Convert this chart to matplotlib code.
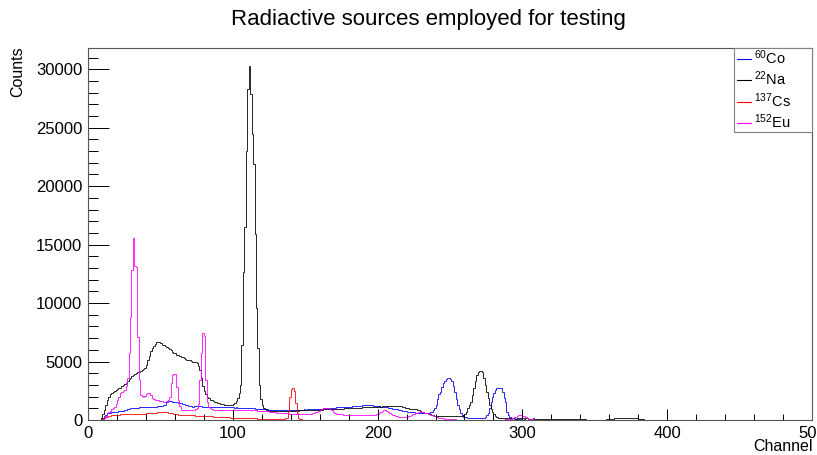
import numpy as np
import matplotlib
matplotlib.use("Agg")
import matplotlib.pyplot as plt
from matplotlib.patches import Rectangle
from matplotlib.ticker import MultipleLocator

plt.rcParams['font.family'] = ['Liberation Sans', 'DejaVu Sans']
plt.rcParams['mathtext.fontset'] = 'custom'
plt.rcParams['mathtext.rm'] = 'Liberation Sans'
plt.rcParams['mathtext.it'] = 'Liberation Sans:italic'

# Cuentas por canal (canales 0..499)
co60 = [
    0, 0, 0, 0, 0, 0, 0, 0, 0, 0, 200, 350, 450, 570, 600, 630, 650, 670, 690, 700,
    720, 740, 760, 770, 800, 830, 870, 920, 960, 1000, 1010, 1020, 1040, 1050, 1060, 1070, 1080, 1090, 1100, 1100,
    1110, 1110, 1120, 1120, 1130, 1130, 1140, 1150, 1160, 1180, 1200, 1220, 1250, 1290, 1500, 1660, 1620, 1600, 1570, 1550,
    1540, 1520, 1490, 1450, 1420, 1380, 1340, 1290, 1250, 1220, 1190, 1160, 1140, 1170, 1190, 1200, 1200, 1180, 1160, 1150,
    1140, 1130, 1120, 1110, 1100, 1090, 1090, 1080, 1090, 1080, 1090, 1080, 1070, 1080, 1090, 1080, 1070, 1080, 1090, 1080,
    1070, 1060, 1070, 1060, 1050, 1040, 1050, 1040, 1030, 1020, 1030, 1020, 1010, 1000, 990, 980, 970, 960, 950, 940,
    930, 920, 910, 900, 890, 880, 870, 860, 870, 860, 870, 860, 850, 860, 870, 860, 870, 860, 870, 860,
    870, 860, 870, 880, 870, 880, 890, 880, 890, 900, 890, 900, 910, 910, 920, 930, 940, 940, 950, 960,
    970, 980, 990, 1000, 1010, 1020, 1030, 1040, 1050, 1060, 1060, 1070, 1080, 1080, 1090, 1090, 1100, 1110, 1120, 1130,
    1140, 1150, 1160, 1170, 1180, 1190, 1200, 1220, 1240, 1250, 1270, 1280, 1290, 1280, 1270, 1260, 1250, 1240, 1220, 1200,
    1180, 1160, 1150, 1130, 1120, 1100, 1090, 1060, 1030, 1000, 980, 950, 930, 910, 880, 860, 840, 810, 780, 750,
    720, 710, 690, 680, 660, 650, 640, 630, 620, 610, 600, 610, 600, 610, 600, 620, 650, 700, 860, 1000,
    1290, 1800, 2200, 2430, 2800, 3140, 3350, 3510, 3560, 3570, 3550, 3300, 2900, 2430, 1800, 1290, 900, 570, 400, 290,
    250, 220, 200, 190, 180, 170, 160, 160, 150, 150, 150, 160, 170, 200, 300, 420, 570, 1000, 1570, 2000,
    2290, 2550, 2720, 2740, 2740, 2700, 2430, 1900, 1570, 710, 450, 290, 200, 150, 100, 80, 60, 50, 40, 40,
    30, 30, 30, 20, 30, 20, 20, 30, 20, 20, 20, 20, 20, 20, 10, 20, 20, 10, 20, 10,
    10, 20, 10, 10, 10, 20, 10, 10, 10, 10, 10, 10, 10, 10, 10, 10, 10, 10, 10, 10,
    10, 10, 10, 10, 10, 10, 10, 10, 10, 10, 10, 10, 10, 10, 10, 10, 10, 10, 10, 10,
    10, 10, 10, 10, 10, 20, 20, 20, 30, 30, 30, 30, 20, 20, 10, 10, 10, 10, 10, 10,
    10, 10, 10, 10, 10, 10, 10, 10, 10, 10, 0, 10, 0, 10, 0, 0, 10, 0, 0, 0,
    0, 0, 0, 0, 0, 0, 0, 0, 0, 0, 0, 0, 0, 0, 0, 0, 0, 0, 0, 0,
    0, 0, 0, 0, 0, 0, 0, 0, 0, 0, 0, 0, 0, 0, 0, 0, 0, 0, 0, 0,
    0, 0, 0, 0, 0, 0, 0, 0, 0, 0, 0, 0, 0, 0, 0, 0, 0, 0, 0, 0,
    0, 0, 0, 0, 0, 0, 0, 0, 0, 0, 0, 0, 0, 0, 0, 0, 0, 0, 0, 0,
    0, 0, 0, 0, 0, 0, 0, 0, 0, 0, 0, 0, 0, 0, 0, 0, 0, 0, 0, 0,
]

na22 = [
    0, 0, 0, 0, 0, 0, 0, 0, 0, 200, 500, 860, 1300, 1700, 2000, 2200, 2340, 2400, 2450, 2550,
    2630, 2700, 2780, 2900, 3000, 3090, 3200, 3350, 3490, 3600, 3750, 3850, 3940, 4000, 4080, 4140, 4200, 4250, 4350, 4430,
    4700, 5100, 5500, 5900, 6150, 6350, 6510, 6650, 6710, 6650, 6550, 6450, 6400, 6330, 6250, 6140, 6050, 5950, 5850, 5750,
    5700, 5600, 5550, 5480, 5430, 5350, 5300, 5200, 5150, 5140, 5100, 5050, 5000, 5000, 4950, 4850, 4600, 4280, 3600, 2900,
    2500, 2200, 2000, 1850, 1750, 1700, 1620, 1550, 1500, 1480, 1450, 1400, 1380, 1350, 1320, 1300, 1290, 1280, 1290, 1300,
    1350, 1430, 1600, 1900, 2300, 3000, 6400, 12700, 16500, 23000, 28300, 30300, 27900, 24500, 21900, 15900, 9600, 6200, 3000, 1800,
    1300, 1030, 900, 820, 790, 770, 760, 750, 760, 770, 750, 760, 780, 770, 760, 780, 790, 780, 800, 790,
    800, 790, 810, 800, 820, 810, 830, 820, 840, 830, 850, 840, 860, 850, 870, 860, 880, 870, 890, 880,
    900, 890, 910, 900, 920, 910, 930, 920, 940, 930, 950, 940, 960, 970, 960, 980, 970, 990, 1000, 990,
    1010, 1000, 1020, 1030, 1020, 1040, 1050, 1040, 1060, 1070, 1080, 1070, 1090, 1100, 1090, 1110, 1120, 1130, 1140, 1130,
    1150, 1160, 1150, 1170, 1180, 1170, 1190, 1200, 1190, 1200, 1200, 1190, 1200, 1210, 1200, 1190, 1180, 1150, 1110, 1060,
    1020, 1000, 980, 960, 950, 940, 930, 880, 820, 760, 700, 660, 620, 600, 560, 520, 480, 440, 400, 370,
    360, 350, 340, 340, 330, 330, 320, 330, 320, 320, 330, 320, 320, 330, 320, 330, 340, 350, 380, 420,
    500, 720, 1000, 1300, 1570, 2100, 2740, 3300, 3860, 4100, 4200, 4200, 4140, 3600, 3000, 2430, 1900, 1290, 900, 650,
    490, 350, 250, 170, 140, 130, 140, 130, 120, 130, 140, 130, 120, 130, 140, 120, 130, 140, 130, 120,
    130, 120, 140, 130, 120, 110, 120, 130, 120, 110, 120, 110, 120, 110, 100, 110, 120, 110, 100, 110,
    100, 110, 100, 90, 100, 110, 100, 90, 100, 110, 100, 90, 100, 90, 100, 90, 80, 90, 100, 90,
    80, 70, 60, 50, 40, 40, 30, 40, 30, 40, 30, 40, 30, 40, 30, 40, 30, 40, 50, 60,
    70, 90, 110, 130, 140, 150, 150, 160, 150, 160, 150, 160, 150, 160, 150, 150, 140, 150, 140, 130,
    120, 100, 80, 60, 40, 30, 20, 20, 10, 20, 10, 10, 20, 10, 10, 10, 10, 0, 10, 10,
    0, 10, 0, 0, 10, 0, 0, 0, 10, 0, 0, 0, 0, 0, 0, 0, 0, 0, 0, 0,
    0, 0, 0, 0, 0, 0, 0, 0, 0, 0, 0, 0, 0, 0, 0, 0, 0, 0, 0, 0,
    0, 0, 0, 0, 0, 0, 0, 0, 0, 0, 0, 0, 0, 0, 0, 0, 0, 0, 0, 0,
    0, 0, 0, 0, 0, 0, 0, 0, 0, 0, 0, 0, 0, 0, 0, 0, 0, 0, 0, 0,
    0, 0, 0, 0, 0, 0, 0, 0, 0, 0, 0, 0, 0, 0, 0, 0, 0, 0, 0, 0,
]

cs137 = [
    0, 0, 0, 0, 0, 0, 0, 0, 0, 0, 100, 200, 250, 290, 350, 380, 400, 420, 430, 450,
    460, 470, 480, 480, 490, 490, 490, 490, 500, 500, 510, 510, 520, 520, 530, 530, 540, 540, 550, 550,
    560, 560, 570, 570, 570, 580, 600, 620, 650, 700, 720, 710, 690, 680, 650, 630, 610, 590, 570, 540,
    510, 480, 450, 450, 460, 470, 460, 450, 440, 420, 410, 400, 390, 390, 380, 370, 370, 360, 350, 340,
    340, 330, 330, 320, 320, 310, 300, 300, 290, 290, 290, 280, 270, 260, 250, 240, 230, 220, 210, 200,
    200, 190, 190, 180, 180, 170, 170, 160, 160, 150, 150, 150, 140, 140, 140, 130, 130, 120, 120, 110,
    110, 100, 100, 100, 90, 90, 80, 80, 80, 90, 90, 100, 100, 110, 110, 120, 130, 180, 860, 2000,
    2630, 2710, 2500, 1430, 570, 200, 80, 50, 40, 30, 30, 30, 30, 30, 30, 30, 30, 30, 30, 30,
    30, 30, 30, 30, 30, 30, 30, 30, 30, 30, 30, 30, 30, 30, 30, 30, 30, 30, 30, 30,
    30, 30, 30, 30, 30, 30, 30, 30, 30, 30, 30, 30, 30, 30, 30, 30, 30, 30, 30, 30,
    30, 30, 30, 30, 30, 30, 30, 30, 30, 30, 30, 30, 30, 30, 30, 30, 30, 30, 30, 30,
    30, 30, 30, 30, 30, 30, 20, 20, 20, 20, 20, 20, 20, 20, 20, 20, 20, 20, 20, 20,
    20, 20, 20, 20, 20, 20, 20, 20, 20, 20, 20, 20, 20, 20, 20, 20, 20, 20, 20, 20,
    20, 20, 20, 20, 20, 20, 20, 20, 20, 20, 20, 20, 20, 20, 20, 20, 20, 20, 20, 20,
    20, 20, 20, 20, 20, 20, 20, 20, 20, 20, 30, 30, 30, 20, 20, 20, 10, 10, 10, 10,
    10, 10, 10, 10, 10, 10, 10, 10, 10, 10, 10, 10, 10, 10, 10, 10, 10, 10, 10, 10,
    10, 10, 10, 10, 10, 10, 10, 10, 10, 10, 10, 10, 10, 10, 10, 10, 10, 10, 10, 10,
    10, 10, 10, 10, 10, 10, 10, 10, 10, 10, 10, 10, 10, 10, 10, 10, 10, 10, 10, 10,
    10, 10, 10, 10, 10, 10, 10, 10, 10, 10, 10, 10, 10, 10, 10, 10, 10, 10, 10, 10,
    10, 10, 10, 10, 10, 10, 10, 10, 10, 10, 0, 10, 0, 10, 0, 0, 10, 0, 0, 0,
    0, 0, 0, 0, 0, 0, 0, 0, 0, 0, 0, 0, 0, 0, 0, 0, 0, 0, 0, 0,
    0, 0, 0, 0, 0, 0, 0, 0, 0, 0, 0, 0, 0, 0, 0, 0, 0, 0, 0, 0,
    0, 0, 0, 0, 0, 0, 0, 0, 0, 0, 0, 0, 0, 0, 0, 0, 0, 0, 0, 0,
    0, 0, 0, 0, 0, 0, 0, 0, 0, 0, 0, 0, 0, 0, 0, 0, 0, 0, 0, 0,
    0, 0, 0, 0, 0, 0, 0, 0, 0, 0, 0, 0, 0, 0, 0, 0, 0, 0, 0, 0,
]

eu152 = [
    0, 0, 0, 0, 0, 0, 0, 0, 0, 0, 0, 150, 350, 570, 700, 800, 900, 1000, 1140, 1400,
    1700, 2000, 2290, 2400, 2500, 2570, 2900, 3600, 5700, 8850, 12850, 15600, 13140, 13100, 7140, 3430, 2140, 2050, 2000, 2050,
    2200, 2340, 2290, 2100, 1860, 1780, 1740, 1710, 1680, 1650, 1620, 1600, 1580, 1570, 1600, 1700, 2000, 3140, 3860, 3940,
    3900, 2860, 1710, 1200, 860, 850, 860, 860, 850, 850, 860, 860, 870, 860, 900, 1000, 1400, 3430, 5740, 7430,
    7200, 3430, 1570, 1140, 1000, 900, 880, 870, 860, 870, 860, 850, 860, 850, 840, 850, 840, 830, 840, 830,
    840, 850, 860, 850, 860, 870, 860, 850, 860, 850, 860, 870, 860, 850, 840, 830, 820, 810, 800, 790,
    780, 770, 760, 750, 740, 720, 700, 690, 680, 660, 640, 620, 610, 600, 590, 580, 570, 560, 560, 550,
    550, 540, 540, 530, 530, 530, 520, 530, 530, 530, 530, 530, 540, 540, 550, 560, 600, 650, 700, 780,
    850, 950, 1000, 1060, 1060, 1050, 1000, 950, 850, 700, 600, 510, 500, 490, 480, 480, 470, 470, 460, 460,
    450, 450, 450, 460, 450, 450, 460, 450, 450, 440, 450, 440, 450, 440, 450, 440, 450, 450, 460, 480,
    520, 580, 650, 750, 850, 850, 800, 700, 600, 520, 450, 400, 340, 320, 300, 300, 290, 290, 290, 290,
    300, 330, 380, 430, 490, 540, 590, 630, 660, 660, 660, 650, 640, 620, 560, 500, 450, 430, 380, 320,
    260, 220, 190, 170, 150, 130, 110, 100, 90, 80, 70, 60, 50, 50, 40, 40, 30, 30, 30, 30,
    30, 40, 30, 20, 30, 30, 40, 30, 20, 30, 30, 20, 30, 40, 30, 30, 20, 30, 30, 40,
    30, 30, 30, 30, 30, 30, 30, 40, 40, 50, 60, 80, 120, 170, 230, 300, 370, 420, 430, 420,
    380, 320, 250, 180, 120, 80, 60, 50, 40, 40, 30, 30, 30, 30, 30, 30, 30, 30, 30, 30,
    20, 20, 20, 20, 20, 20, 20, 20, 20, 20, 20, 20, 20, 20, 20, 20, 20, 20, 20, 20,
    20, 20, 20, 20, 20, 20, 20, 20, 20, 20, 10, 10, 10, 10, 10, 10, 10, 10, 10, 10,
    10, 10, 10, 10, 10, 10, 10, 10, 10, 10, 10, 10, 10, 10, 10, 10, 10, 10, 10, 10,
    10, 10, 10, 10, 10, 10, 10, 10, 10, 10, 10, 10, 10, 10, 10, 10, 10, 10, 10, 10,
    10, 10, 10, 10, 10, 10, 10, 10, 10, 10, 10, 10, 10, 10, 10, 10, 10, 10, 10, 10,
    10, 10, 10, 10, 10, 10, 10, 10, 10, 10, 0, 10, 0, 10, 0, 0, 10, 0, 0, 0,
    0, 0, 0, 0, 0, 0, 0, 0, 0, 0, 0, 0, 0, 0, 0, 0, 0, 0, 0, 0,
    0, 0, 0, 0, 0, 0, 0, 0, 0, 0, 0, 0, 0, 0, 0, 0, 0, 0, 0, 0,
    0, 0, 0, 0, 0, 0, 0, 0, 0, 0, 0, 0, 0, 0, 0, 0, 0, 0, 0, 0,
]

labels = [r'$^{60}$Co', r'$^{22}$Na', r'$^{137}$Cs', r'$^{152}$Eu']
colors = ['#0000ff', '#000000', '#ff0000', '#ff00ff']
series = [co60, na22, cs137, eu152]

edges = np.arange(len(co60) + 1)

fig = plt.figure(figsize=(8.17, 4.55), dpi=100)
ax = fig.add_axes([0.1077, 0.0769, 0.8862, 0.8176])

for vals, col in zip(series, colors):
    ax.stairs(vals, edges, color=col, linewidth=0.7, alpha=0.85)

ax.set_xlim(0, 500)
ax.set_ylim(0, 31815)

ax.xaxis.set_major_locator(MultipleLocator(100))
ax.xaxis.set_minor_locator(MultipleLocator(20))
ax.yaxis.set_major_locator(MultipleLocator(5000))
ax.yaxis.set_minor_locator(MultipleLocator(1000))
ax.tick_params(axis='x', which='major', direction='in', length=8, width=0.7, pad=4, labelsize=12)
ax.tick_params(axis='x', which='minor', direction='in', length=4, width=0.7)
ax.tick_params(axis='y', which='major', direction='in', length=15, width=0.7, pad=4, labelsize=12)
ax.tick_params(axis='y', which='minor', direction='in', length=7.5, width=0.7)
for sp in ax.spines.values():
    sp.set_color('#555555')
    sp.set_linewidth(0.8)

fig.text(0.525, 0.958, 'Radiactive sources employed for testing', ha='center', va='center', fontsize=16)
fig.text(0.0214, 0.897, 'Counts', rotation=90, ha='center', va='top', fontsize=11.5)
fig.text(0.995, 0.018, 'Channel', ha='right', va='center', fontsize=11.5)

# leyenda estilo ROOT, caja fija en la esquina superior derecha
ax.add_patch(Rectangle((0.8923, 0.7734), 0.1077, 0.2266, transform=ax.transAxes,
                       facecolor='white', edgecolor='#808080', linewidth=0.8,
                       clip_on=False, zorder=5))
for i, (lab, col) in enumerate(zip(labels, colors)):
    y_line = 0.9704 - i * 0.0576
    ax.plot([0.8960, 0.9153], [y_line, y_line], color=col, linewidth=0.8,
            transform=ax.transAxes, clip_on=False, zorder=6)
    ax.text(0.9199, y_line - 0.0135, lab, transform=ax.transAxes, fontsize=10.5,
            ha='left', va='baseline', zorder=6)

fig.savefig('out.png', dpi=100)
